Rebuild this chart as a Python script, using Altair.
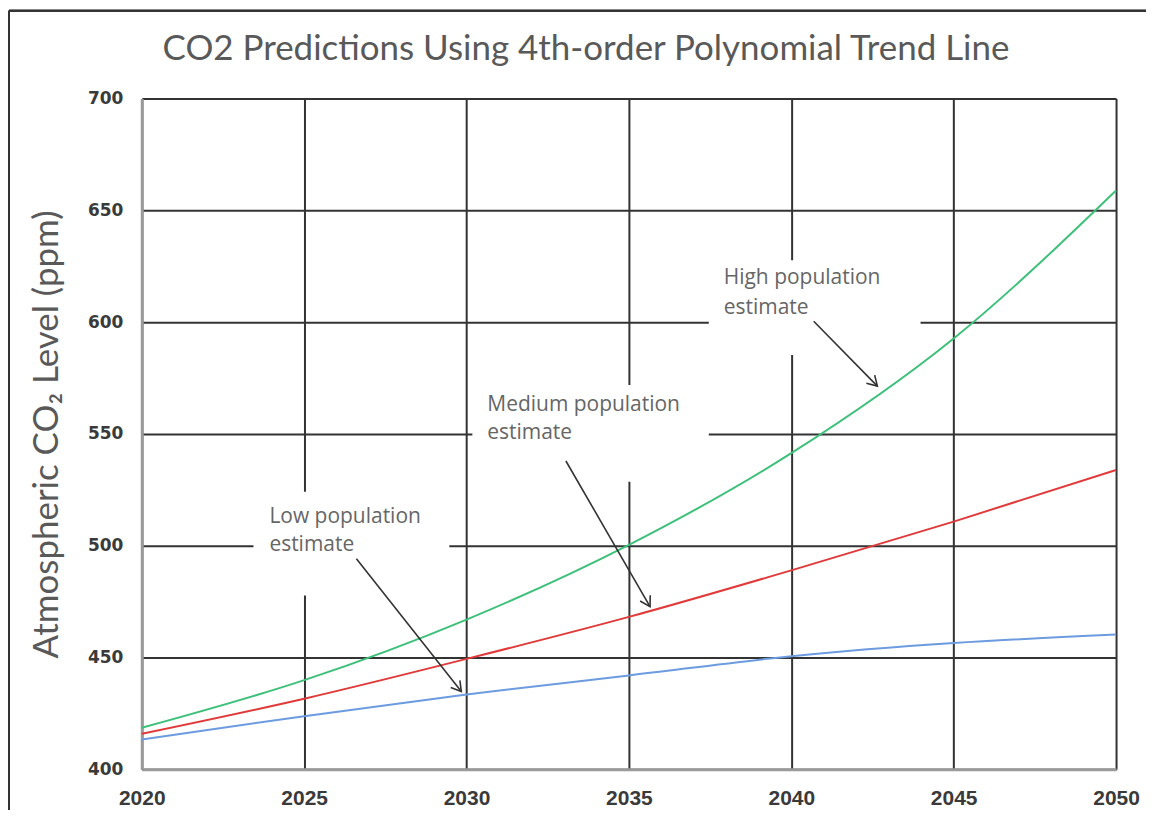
import altair as alt
import pandas as pd

years = [2020, 2025, 2030, 2035, 2040, 2045, 2050]
high = [418.6, 439.9, 467.0, 500.4, 541.4, 592.7, 658.9]
medium = [415.9, 431.6, 449.4, 468.2, 489.0, 510.8, 533.9]
low = [413.4, 423.8, 433.5, 442.0, 450.6, 456.5, 460.3]

series_names = ["High", "Medium", "Low"]
series_colors = ["#3DC07A", "#E03A3A", "#6C9BE0"]

chart_title = ["CO2 Predictions Using 4th-order Polynomial Trend Line"]

# annotation boxes (white, hide gridlines)
box_x = [2037.46, 2030.18, 2023.44]
box_x2 = [2043.98, 2037.46, 2029.47]
box_y = [585.3, 528.6, 477.7]
box_y2 = [627.7, 571.9, 524.1]

# annotation text lines
txt_lines = ["High population", "estimate", "Medium population", "estimate",
             "Low population", "estimate"]
txt_x = [2037.92, 2037.92, 2030.64, 2030.64, 2023.93, 2023.93]
txt_y = [619.6, 606.25, 562.9, 550.4, 512.9, 500.4]

# arrows
arr_x = [2040.69, 2033.06, 2026.61]
arr_y = [600.4, 537.9, 494.2]
arr_x2 = [2042.65, 2035.65, 2029.84]
arr_y2 = [571.4, 472.8, 434.8]
arr_angle = [45.4, 60.1, 51.7]

rows = []
for name, vals in zip(series_names, [high, medium, low]):
    for yr, v in zip(years, vals):
        rows.append({"year": yr, "co2": v, "series": name})
df = pd.DataFrame(rows)

boxes = pd.DataFrame({"x": box_x, "x2": box_x2, "y": box_y, "y2": box_y2})
texts = pd.DataFrame({"x": txt_x, "y": txt_y, "t": txt_lines})
arrows = pd.DataFrame({"x": arr_x, "y": arr_y, "x2": arr_x2, "y2": arr_y2, "a": arr_angle})
title_df = pd.DataFrame({"t": chart_title})

xscale = alt.Scale(domain=[2020, 2050], nice=False, zero=False)
yscale = alt.Scale(domain=[400, 700], nice=False, zero=False)

xaxis = alt.Axis(values=years, format="d", title=None, grid=True, gridColor="#333",
                 gridWidth=2, ticks=False, domainColor="#9a9a9a", domainWidth=3,
                 labelFont="Liberation Sans", labelFontWeight="bold", labelFlush=False,
                 labelFontSize=21, labelColor="#3a3a3a", labelPadding=18)
yaxis = alt.Axis(values=[400, 450, 500, 550, 600, 650, 700], title="Atmospheric CO₂ Level (ppm)",
                 grid=True, gridColor="#333", gridWidth=2, ticks=False,
                 domainColor="#9a9a9a", domainWidth=3, labelFlush=False,
                 labelFont="DejaVu Sans", labelFontWeight="bold", labelFontSize=17,
                 labelColor="#3a3a3a", labelPadding=19,
                 titleFont="Lato", titleFontSize=35, titleFontWeight="normal",
                 titleColor="#595959", titleX=-95, titleY=336, titleAngle=270,
                 titleAlign="center", titleBaseline="middle")


def X(f):
    return alt.X(f, scale=xscale, axis=xaxis)


def Y(f):
    return alt.Y(f, scale=yscale, axis=yaxis)


base_lines = alt.Chart(df).mark_line(strokeWidth=2, interpolate="monotone").encode(
    x=X("year:Q"),
    y=Y("co2:Q"),
    color=alt.Color("series:N", scale=alt.Scale(domain=series_names, range=series_colors),
                    legend=None),
)

rects = alt.Chart(boxes).mark_rect(color="white").encode(
    x=X("x:Q"), x2="x2:Q", y=Y("y:Q"), y2="y2:Q"
)

labels = alt.Chart(texts).mark_text(align="left", baseline="middle", font="Open Sans",
                                    fontSize=21, color="#666666").encode(
    x=X("x:Q"), y=Y("y:Q"), text="t:N"
)

arrow_lines = alt.Chart(arrows).mark_rule(color="#333", strokeWidth=1.6).encode(
    x=X("x:Q"), y=Y("y:Q"), x2="x2:Q", y2="y2:Q"
)

arrow_heads = alt.Chart(arrows).mark_point(
    shape="M-1,-0.6L0,0L-1,0.6", filled=False, color="#333", strokeWidth=1.6, size=380,
    opacity=1
).encode(x=X("x2:Q"), y=Y("y2:Q"), angle=alt.Angle("a:Q", scale=None))

title_mark = alt.Chart(title_df).mark_text(
    font="Lato", fontSize=35, color="#595959", align="center", baseline="middle"
).encode(x=alt.value(445), y=alt.value(-50), text="t:N")

frame_left = alt.Chart(boxes).mark_rule(color="#333", strokeWidth=2).encode(
    x=alt.value(-133), y=alt.value(-88), y2=alt.value(720)
)
frame_top = alt.Chart(boxes).mark_rule(color="#333", strokeWidth=2).encode(
    x=alt.value(-133), x2=alt.value(1012), y=alt.value(-88)
)

chart = alt.layer(rects, base_lines, labels, arrow_lines, arrow_heads, title_mark,
                  frame_left, frame_top).properties(
    width=976, height=672,
    autosize=alt.AutoSizeParams(type="none"),
    padding={"left": 134, "top": 90, "right": 30, "bottom": 40},
).configure_view(stroke=None)

chart.save("out.html", embed_options={"renderer": "svg", "actions": False})
